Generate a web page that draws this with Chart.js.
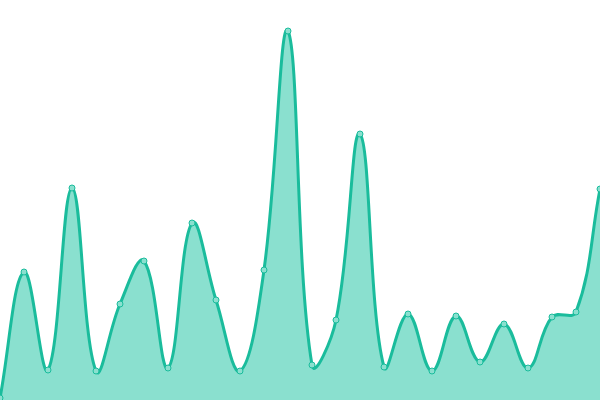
<!DOCTYPE html>
<html>
<head>
<meta charset="utf-8">
<script src="https://cdn.jsdelivr.net/npm/chart.js@4"></script>
<style>
  html, body { margin: 0; padding: 0; background: #fff; }
  #wrap { width: 600px; height: 400px; }
</style>
</head>
<body>
<div id="wrap"><canvas id="areaChart"></canvas></div>
<script>
const labels = ['1','2','3','4','5','6','7','8','9','10','11','12','13','14','15','16','17','18','19','20','21','22','23','24','25','26'];
const values = [0.5, 32, 7.5, 53, 7.25, 24, 34.75, 8, 44.25, 25, 7.25, 32.5, 92.25, 8.75, 20, 66.5, 8.25, 21.5, 7.25, 21, 9.5, 19, 8, 20.75, 22, 52.75];

const lineColor = '#1abc9c';
const fillColor = '#8ae0cf';

const ctx = document.getElementById('areaChart').getContext('2d');
new Chart(ctx, {
    type: 'line',
    data: {
        labels: labels,
        datasets: [{
            data: values,
            borderColor: lineColor,
            backgroundColor: fillColor,
            borderWidth: 3,
            fill: true,
            tension: 0.4,
            pointRadius: 3,
            pointBorderWidth: 1,
            pointBackgroundColor: fillColor,
            pointBorderColor: lineColor
        }]
    },
    options: {
        responsive: true,
        maintainAspectRatio: false,
        animation: false,
        layout: { padding: 0, autoPadding: false },
        plugins: {
            legend: { display: false },
            tooltip: { enabled: false }
        },
        scales: {
            x: { display: false },
            y: { display: false, min: 0, max: 100 }
        }
    }
});
</script>
</body>
</html>
